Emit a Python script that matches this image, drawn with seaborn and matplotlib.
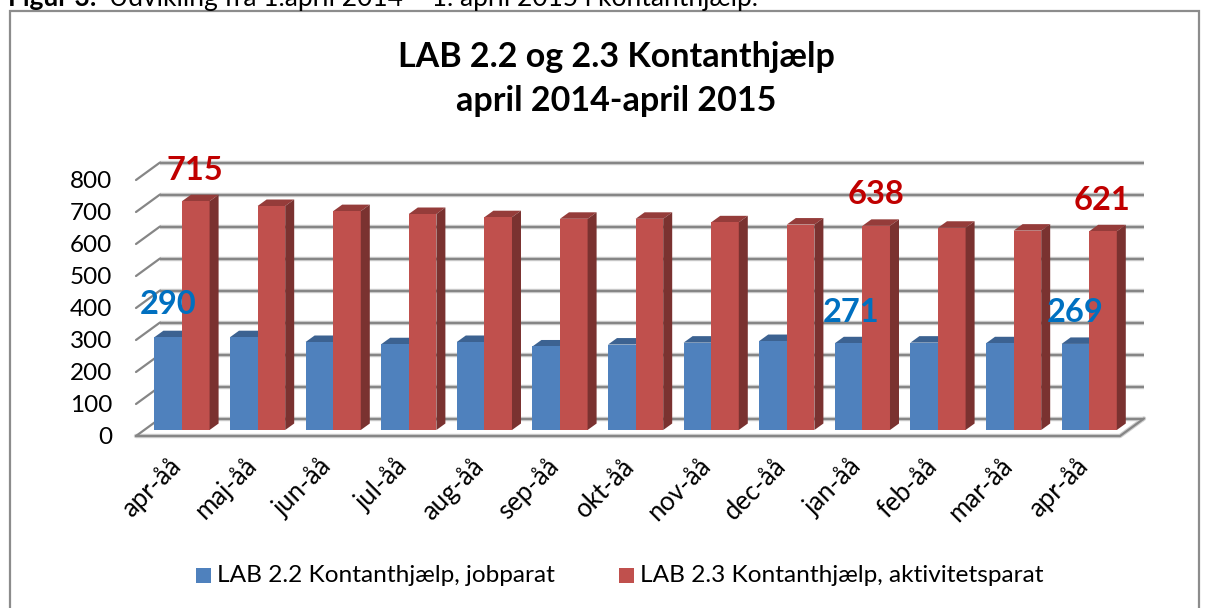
import numpy as np
import pandas as pd
import seaborn as sns
import matplotlib.pyplot as plt
from matplotlib.collections import PolyCollection
from matplotlib.patches import Rectangle
from matplotlib.transforms import ScaledTranslation

months = ['apr-åå', 'maj-åå', 'jun-åå', 'jul-åå', 'aug-åå', 'sep-åå', 'okt-åå',
          'nov-åå', 'dec-åå', 'jan-åå', 'feb-åå', 'mar-åå', 'apr-åå']
month_pos = [str(i) for i in range(13)]
jobparat = [290, 290, 275, 268, 275, 261, 267, 273, 278, 271, 273, 271, 269]
aktivitet = [715, 700, 684, 675, 665, 660, 660, 649, 642, 638, 632, 623, 621]
yticks = [0, 100, 200, 300, 400, 500, 600, 700, 800]
name_job = 'LAB 2.2 Kontanthjælp, jobparat'
name_akt = 'LAB 2.3 Kontanthjælp, aktivitetsparat'

df = pd.DataFrame({'month': month_pos * 2,
                   'count': jobparat + aktivitet,
                   'series': [name_job] * 13 + [name_akt] * 13})

sns.set_theme(style='white')
plt.rcParams['font.family'] = ['Lato', 'DejaVu Sans']

W, H = 1208, 608
fig = plt.figure(figsize=(W / 100, H / 100), dpi=100)
ax = fig.add_axes([136 / W, 1 - 436 / H, (1144 - 136) / W, (436 - 162.5) / H])

blue, red = '#4F81BD', '#C0504D'
sns.barplot(data=df, x='month', y='count', hue='series', palette=[blue, red],
            width=0.73, gap=0, saturation=1, legend=False, ax=ax, zorder=3,
            linewidth=0, edgecolor='none')

step = 75.6
ax.set_xlim((136 - 182) / step, (1144 - 182) / step)
ax.set_ylim(0, (436 - 162.5) / 0.32)

# 3D look: depth of the wall and of the bars, data units
wall_dx, wall_dy = 24 / step, 17.5 / 0.32
lift = 6 / 0.32
bar_dx, bar_dy = 9 / step, 6.5 / 0.32
grid = '#868686'

x0, x1 = ax.get_xlim()
x_front_end = x1 - wall_dx
for v in yticks:
    ax.plot([x0 + wall_dx, x1], [v + wall_dy] * 2, color='#d0d0d0', lw=3.2, zorder=1, solid_capstyle='butt', clip_on=False)
    ax.plot([x0 + wall_dx, x1], [v + wall_dy] * 2, color=grid, lw=1.6, zorder=1.1, solid_capstyle='butt', clip_on=False)
    ax.plot([x0, x0 + wall_dx], [v, v + wall_dy], color=grid, lw=1.6, zorder=1.1, clip_on=False)
# floor
ax.plot([x0, x_front_end, x1], [0, 0, wall_dy], color='#d0d0d0', lw=3.2, zorder=1, clip_on=False)
ax.plot([x0, x_front_end, x1], [0, 0, wall_dy], color=grid, lw=1.6, zorder=1.1, clip_on=False)

# bars from seaborn are lifted off the floor, then get a top and a side face
for bar_list, c_top, c_side in [(ax.containers[0], '#3C6291', None),
                                (ax.containers[1], '#953C3A', '#7A3230')]:
    tops, sides = [], []
    for b in bar_list:
        b.set_y(lift)
        xl, xr = b.get_x(), b.get_x() + b.get_width()
        y0, y1 = lift, lift + b.get_height()
        tops.append([(xl, y1), (xr, y1), (xr + bar_dx, y1 + bar_dy), (xl + bar_dx, y1 + bar_dy)])
        sides.append([(xr, y0), (xr + bar_dx, y0 + bar_dy), (xr + bar_dx, y1 + bar_dy), (xr, y1)])
    ax.add_collection(PolyCollection(tops, facecolors=c_top, edgecolors='none', zorder=2.5))
    if c_side:
        ax.add_collection(PolyCollection(sides, facecolors=c_side, edgecolors='none', zorder=3.5))

sns.despine(ax=ax, left=True, bottom=True)
ax.set_xlabel('')
ax.set_ylabel('')
ax.set_yticks(yticks)
ax.tick_params(axis='y', length=0, pad=17, labelsize=17.5, labelcolor='black')
ax.set_xticks(range(13))
ax.set_xticklabels(months, rotation=45, ha='right', rotation_mode='anchor', fontsize=18.5)
ax.tick_params(axis='x', length=0, pad=12.5, labelcolor='black')
nudge = ScaledTranslation(-10 / 72, 0, fig.dpi_scale_trans)
for lab in ax.get_xticklabels():
    lab.set_transform(lab.get_transform() + nudge)

# data labels
lab_kw = dict(fontsize=23.5, fontweight='bold', ha='center', va='center', zorder=5)
for i, px, py in [(0, 168, 305), (9, 851, 313), (12, 1075, 312)]:
    fig.text(px / W, 1 - py / H, str(jobparat[i]), color='#0070C0', **lab_kw)
for i, px, py in [(0, 195, 170), (9, 876, 194), (12, 1102, 200)]:
    fig.text(px / W, 1 - py / H, str(aktivitet[i]), color='#C00000', **lab_kw)

# title
fig.text(616 / W, 1 - 57 / H, 'LAB 2.2 og 2.3 Kontanthjælp', fontsize=24.5, fontweight='bold', color='black', ha='center', va='center')
fig.text(616 / W, 1 - 101 / H, 'april 2014-april 2015', fontsize=24.5, fontweight='bold', color='black', ha='center', va='center')

# legend
for px, c, name in [(196, blue, name_job), (619, red, name_akt)]:
    fig.add_artist(Rectangle((px / W, 1 - 583 / H), 15 / W, 15 / H, transform=fig.transFigure, fc=c, ec='none'))
    fig.text((px + 21) / W, 1 - 576 / H, name, fontsize=17.6, color='black', ha='left', va='center')

# frame of the chart and the cut off caption above it
fig.add_artist(Rectangle((9.5 / W, -0.1), (1199 - 9.5) / W, 1.1 - 11 / H, transform=fig.transFigure,
                         fc='none', ec='#8c8c8c', lw=1.6))
fig.text(8 / W, 1 - 6 / H, 'Figur 3:', fontsize=19, fontweight='bold', color='black', ha='left', va='baseline')
fig.text(109 / W, 1 - 6 / H, 'Udvikling fra 1.april 2014 – 1. april 2015 i kontanthjælp.', fontsize=19, color='black', ha='left', va='baseline')

fig.savefig('out.png', dpi=100)
